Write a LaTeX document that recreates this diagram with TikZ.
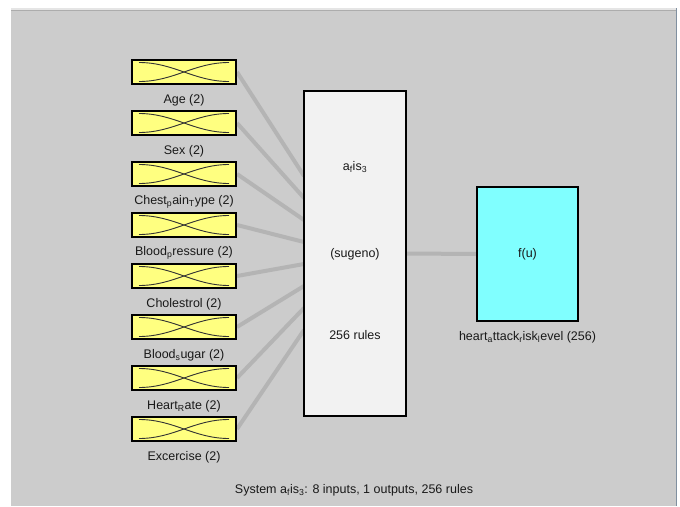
\documentclass[tikz,border=0pt]{standalone}
\usepackage{fontspec}
\setmainfont{Liberation Sans}
\pgfdeclarelayer{back}
\pgfdeclarelayer{bg}
\pgfsetlayers{back,bg,main}
\definecolor{panel}{HTML}{CCCCCC}
\definecolor{link}{HTML}{B4B4B4}
\definecolor{mfy}{HTML}{FFFF80}
\definecolor{sysf}{HTML}{F2F2F2}
\definecolor{outc}{HTML}{80FFFF}
\definecolor{edgeline}{HTML}{8090A0}
\begin{document}
\begin{tikzpicture}[x=1pt,y=-1pt,
  lbl/.style={font=\fontsize{12.5}{14}\selectfont, inner sep=0pt, text=black!90},
  inbox/.style={draw=black, line width=2pt, fill=mfy, minimum width=104pt, minimum height=24pt, inner sep=0pt},
  sysbox/.style={draw=black, line width=2pt, fill=sysf, minimum width=102pt, minimum height=325pt, inner sep=0pt},
  outbox/.style={draw=black, line width=2pt, fill=outc, minimum width=101pt, minimum height=134pt, inner sep=0pt},
  link/.style={draw=link, line width=4pt},
  mf/.style={draw=black!80, line width=0.9pt}
]
\useasboundingbox (0,0) rectangle (680,506);
\begin{pgfonlayer}{back}
\fill[white] (0,0) rectangle (680,506);
\fill[panel] (11,8) rectangle (677,506);
\fill[gray!20] (11,8) rectangle (677,10);
\draw[gray!65, line width=1pt] (11,10.5) -- (677,10.5);
\draw[edgeline, line width=1.5pt] (676.5,8) -- (676.5,506);
\end{pgfonlayer}

% input blocks
\node[inbox] (in1) at (184,72) {};
\node[inbox] (in2) at (184,123) {};
\node[inbox] (in3) at (184,174) {};
\node[inbox] (in4) at (184,225) {};
\node[inbox] (in5) at (184,276) {};
\node[inbox] (in6) at (184,327) {};
\node[inbox] (in7) at (184,378) {};
\node[inbox] (in8) at (184,429) {};

\foreach \i in {1,...,8}{
  \begin{scope}[shift={(in\i.center)}]
    \draw[mf] (-45,-9.5) .. controls (-10,-9.5) and (10,9.5) .. (45,9.5);
    \draw[mf] (-45,9.5) .. controls (-10,9.5) and (10,-9.5) .. (45,-9.5);
  \end{scope}
}

\node[lbl] (l1) at (184,100) {Age (2)};
\node[lbl] (l2) at (184,151) {Sex (2)};
\node[lbl] (l3) at (184,202) {Chest\textsubscript{p}ain\textsubscript{T}ype (2)};
\node[lbl] (l4) at (184,253) {Blood\textsubscript{p}ressure (2)};
\node[lbl] (l5) at (184,304) {Cholestrol (2)};
\node[lbl] (l6) at (184,355) {Blood\textsubscript{s}ugar (2)};
\node[lbl] (l7) at (184,406) {Heart\textsubscript{R}ate (2)};
\node[lbl] (l8) at (184,457) {Excercise (2)};

% system block
\node[sysbox] (sys) at (355,253.5) {};
\node[lbl] (sysname) at (355,167) {a\textsubscript{f}is\textsubscript{3}};
\node[lbl] (systype) at (355,254) {(sugeno)};
\node[lbl] (sysrules) at (355,335) {256 rules};

% output block
\node[outbox] (out) at (527.5,254) {};
\node[lbl] (outf) at (527.5,254) {f(u)};
\node[lbl] (outl) at (527.5,337) {heart\textsubscript{a}ttack\textsubscript{r}isk\textsubscript{l}evel (256)};

% connector end points on the system block
\coordinate (c1) at (304,176);
\coordinate (c2) at (304,198);
\coordinate (c3) at (304,220);
\coordinate (c4) at (304,242);
\coordinate (c5) at (304,264);
\coordinate (c6) at (304,286);
\coordinate (c7) at (304,308);
\coordinate (c8) at (304,330);

\begin{pgfonlayer}{bg}
  \foreach \i in {1,...,8}{
    \draw[link] (in\i.east) -- (c\i);
  }
  \draw[link] (sys.east) -- (out.west);
\end{pgfonlayer}

\node[lbl] (caption) at (354,490) {System a\textsubscript{f}is\textsubscript{3}: 8 inputs, 1 outputs, 256 rules};
\end{tikzpicture}
\end{document}
